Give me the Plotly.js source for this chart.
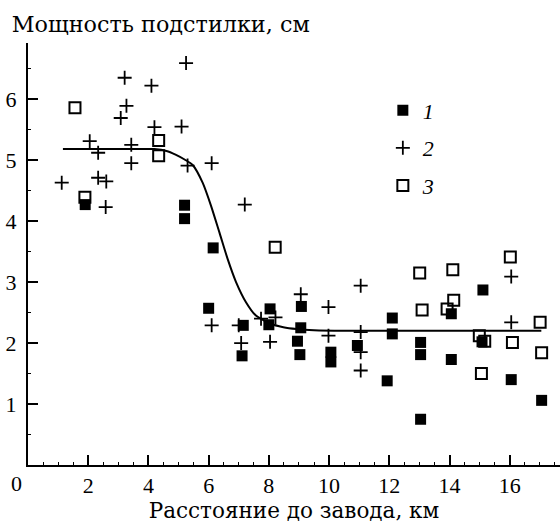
<!DOCTYPE html>
<html>
<head>
<meta charset="utf-8">
<script src="https://cdn.plot.ly/plotly-3.0.1.min.js"></script>
<style>html,body{margin:0;padding:0;background:#fff}#chart{width:560px;height:523px}</style>
</head>
<body>
<div id="chart"></div>
<script>
// Series 1: filled squares
const x1 = [1.9, 5.2, 5.2, 6.15, 6.0, 7.15, 7.11, 8.04, 8.0, 9.08, 9.06, 8.95, 9.03, 10.06, 10.06, 10.94, 12.1, 12.1, 11.93, 13.04, 13.04, 13.04, 14.06, 14.06, 15.11, 15.08, 16.05, 17.06];
const y1 = [4.27, 4.26, 4.04, 3.56, 2.57, 2.29, 1.79, 2.56, 2.3, 2.6, 2.25, 2.03, 1.81, 1.85, 1.69, 1.96, 2.41, 2.15, 1.38, 2.01, 1.81, 0.75, 2.48, 1.73, 2.87, 2.02, 1.4, 1.06];
// Series 2: crosses
const x2 = [1.12, 2.05, 2.33, 2.33, 2.6, 2.58, 3.21, 3.27, 3.08, 3.43, 3.43, 4.1, 4.2, 5.25, 5.1, 5.3, 6.1, 7.2, 6.1, 7.08, 7.0, 7.74, 8.04, 8.22, 9.06, 9.98, 9.98, 11.05, 11.05, 11.05, 11.05, 16.05, 16.05];
const y2 = [4.63, 5.31, 5.12, 4.71, 4.65, 4.23, 6.35, 5.89, 5.69, 5.25, 4.95, 6.22, 5.54, 6.59, 5.55, 4.91, 4.95, 4.27, 2.29, 2.0, 2.29, 2.4, 2.02, 2.42, 2.8, 2.59, 2.12, 2.94, 2.18, 1.85, 1.55, 3.09, 2.34];
// Series 3: open squares
const x3 = [1.56, 1.89, 4.34, 4.34, 8.21, 13.01, 13.09, 14.11, 14.14, 13.92, 14.99, 15.17, 15.06, 16.02, 16.09, 17.01, 17.06];
const y3 = [5.86, 4.39, 5.32, 5.07, 3.57, 3.15, 2.54, 3.2, 2.7, 2.56, 2.12, 2.03, 1.5, 3.41, 2.01, 2.34, 1.84];
// Fitted curve
const curveX = [1.16, 2.5, 3.5, 4.2, 4.6, 4.9, 5.2, 5.47, 5.8, 6.08, 6.36, 6.63, 6.91, 7.24, 7.57, 8.04, 8.48, 8.92, 9.5, 10.5, 12, 14, 16, 17.05];
const curveY = [5.18, 5.18, 5.18, 5.18, 5.15, 5.09, 5.01, 4.92, 4.63, 4.25, 3.81, 3.38, 3.0, 2.67, 2.45, 2.32, 2.26, 2.23, 2.21, 2.2, 2.2, 2.2, 2.2, 2.2];
// Labels
const legendNames = ['1', '2', '3'];
const xTickVals = [2, 4, 6, 8, 10, 12, 14, 16];
const yTickVals = [1, 2, 3, 4, 5, 6];
const titleText = 'Мощность подстилки, см';
const xTitleText = 'Расстояние до завода, км';

const SERIF_D = '"DejaVu Serif", serif';
const SERIF_L = '"Liberation Serif", serif';

const traces = [
  {x: curveX, y: curveY, mode: 'lines', type: 'scatter', showlegend: false,
   line: {color: '#000', width: 2, shape: 'spline', smoothing: 0.6}, hoverinfo: 'skip'},
  {x: x1, y: y1, mode: 'markers', type: 'scatter', name: legendNames[0], legendgroup: 'a',
   marker: {symbol: 'square', size: 11, color: '#000', line: {width: 0}}},
  {x: x2, y: y2, mode: 'markers', type: 'scatter', name: legendNames[1], legendgroup: 'b',
   marker: {symbol: 'cross-thin', size: 10, color: '#000', line: {width: 1.8, color: '#000'}}},
  {x: x3, y: y3, mode: 'markers', type: 'scatter', name: legendNames[2], legendgroup: 'c',
   marker: {symbol: 'square-open', size: 11, color: '#000', line: {width: 2, color: '#000'}}}
];

const layout = {
  width: 560, height: 523,
  margin: {l: 28, r: 0, t: 43, b: 58, pad: 0},
  paper_bgcolor: '#fff', plot_bgcolor: '#fff',
  font: {family: SERIF_L, color: '#000', size: 22},
  title: {text: titleText, x: 0.021, xanchor: 'left', xref: 'container', y: 0.953, yanchor: 'middle', yref: 'container',
          font: {family: SERIF_D, size: 22.3, color: '#000'}},
  xaxis: {range: [0, 17.67], showgrid: false, zeroline: false, showline: true, linecolor: '#000', linewidth: 2,
          tickmode: 'array', tickvals: xTickVals, ticks: 'inside', ticklen: 10, tickwidth: 2, tickcolor: '#000',
          ticklabelstandoff: 0, tickfont: {family: SERIF_L, size: 22},
          minor: {ticks: 'inside', ticklen: 3, dtick: 0.5, tickcolor: '#000', tickwidth: 1},
          title: {text: xTitleText, standoff: 3, font: {family: SERIF_D, size: 21.5}}, automargin: false, fixedrange: true},
  yaxis: {range: [0, 6.92], showgrid: false, zeroline: false, showline: true, linecolor: '#000', linewidth: 2,
          tickmode: 'array', tickvals: yTickVals, ticks: 'inside', ticklen: 10, tickwidth: 2, tickcolor: '#000',
          ticklabelstandoff: 5, tickfont: {family: SERIF_L, size: 22},
          minor: {ticks: 'inside', ticklen: 3, dtick: 0.5, tickcolor: '#000', tickwidth: 1},
          automargin: false, fixedrange: true},
  legend: {x: 0.667, y: 0.89, xanchor: 'left', yanchor: 'top', bgcolor: 'rgba(0,0,0,0)', borderwidth: 0,
           font: {family: SERIF_L, size: 22, style: 'italic'}, tracegroupgap: 6, itemwidth: 30},
  annotations: [
    {text: '0', xref: 'paper', yref: 'paper', x: -0.0207, y: -0.043, xanchor: 'center', yanchor: 'middle',
     showarrow: false, font: {family: SERIF_L, size: 22}}
  ]
};

Plotly.newPlot('chart', traces, layout, {displayModeBar: false, staticPlot: true});
</script>
</body>
</html>
